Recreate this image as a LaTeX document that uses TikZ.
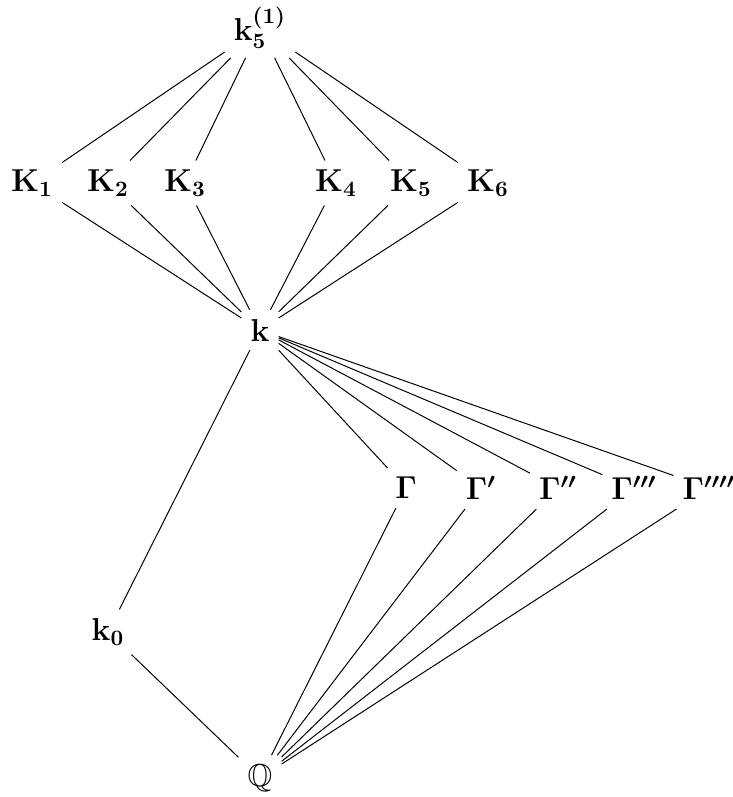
\documentclass[tikz,border=0pt]{standalone}
\usepackage{amssymb}
\usetikzlibrary{positioning}

\begin{document}
\begin{tikzpicture}[
  x=0.4545pt, y=-0.4545pt,
  fld/.style={font=\Large\boldmath, inner sep=4pt},
  ln/.style={line width=0.45pt}
]
  \useasboundingbox (0,0) rectangle (733,797);

  \node[fld] (top) at (260,28) {$\mathbf{k}_5^{(1)}$};

  \node[fld] (K1) at (32,183) {$\mathbf{K}_1$};
  \node[fld] (K2) at (108,183) {$\mathbf{K}_2$};
  \node[fld] (K3) at (185,183) {$\mathbf{K}_3$};
  \node[fld] (K4) at (336,183) {$\mathbf{K}_4$};
  \node[fld] (K5) at (411,183) {$\mathbf{K}_5$};
  \node[fld] (K6) at (488,183) {$\mathbf{K}_6$};

  \node[fld] (k) at (260,330) {$\mathbf{k}$};

  \node[fld] (G1) at (406,488) {$\Gamma$};
  \node[fld] (G2) at (481,488) {$\Gamma'$};
  \node[fld] (G3) at (558,488) {$\Gamma''$};
  \node[fld] (G4) at (634,488) {$\Gamma'''$};
  \node[fld] (G5) at (709,488) {$\Gamma''''$};

  \node[fld] (k0) at (108,632) {$\mathbf{k}_0$};
  \node[fld] (Q) at (260,778) {$\mathbb{Q}$};

  \draw[ln] (top) -- (K1);
  \draw[ln] (top) -- (K2);
  \draw[ln] (top) -- (K3);
  \draw[ln] (top) -- (K4);
  \draw[ln] (top) -- (K5);
  \draw[ln] (top) -- (K6);

  \draw[ln] (K1) -- (k);
  \draw[ln] (K2) -- (k);
  \draw[ln] (K3) -- (k);
  \draw[ln] (K4) -- (k);
  \draw[ln] (K5) -- (k);
  \draw[ln] (K6) -- (k);

  \draw[ln] (k) -- (G1);
  \draw[ln] (k) -- (G2);
  \draw[ln] (k) -- (G3);
  \draw[ln] (k) -- (G4);
  \draw[ln] (k) -- (G5);
  \draw[ln] (k) -- (k0);

  \draw[ln] (G1) -- (Q);
  \draw[ln] (G2) -- (Q);
  \draw[ln] (G3) -- (Q);
  \draw[ln] (G4) -- (Q);
  \draw[ln] (G5) -- (Q);
  \draw[ln] (k0) -- (Q);
\end{tikzpicture}
\end{document}
